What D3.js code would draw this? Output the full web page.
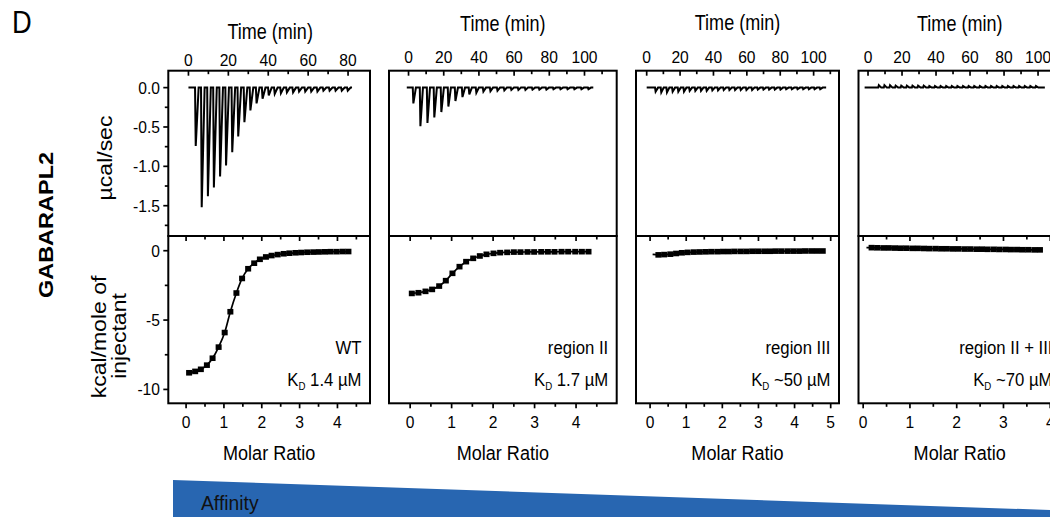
<!DOCTYPE html>
<html><head><meta charset="utf-8">
<script src="https://cdn.jsdelivr.net/npm/d3@7"></script>
<style>
body{margin:0;background:#fff}
svg{display:block}
text{font-family:"Liberation Sans",Arial,Helvetica,sans-serif;fill:#000}
</style>
</head><body>
<svg id="chart" width="1050" height="517"></svg>
<script>
// ---------------- DATA ----------------
const constructs = ["WT", "region II", "region III", "region II + III"];
const kdValues = ["1.4 µM", "1.7 µM", "~50 µM", "~70 µM"];
const timeTickLabels = [[0,20,40,60,80],[0,20,40,60,80,100],[0,20,40,60,80,100],[0,20,40,60,80,100]];
const molarTickLabels = [[0,1,2,3,4],[0,1,2,3,4],[0,1,2,3,4,5],[0,1,2,3,4]];
const powerTickLabels = [0.0,-0.5,-1.0,-1.5];
const heatTickLabels = [0,-5,-10];

// raw thermograms (µcal/sec): injection times (min) and peak heights
const baselineWT = [0, 82];
const injTimeWT = [3.3,6.3,9.4,12.4,15.5,18.5,21.6,24.6,27.7,30.7,33.8,36.8,39.9,42.9,46.0,49.0,52.1,55.1,58.2,61.2,64.3,67.3,70.4,73.4,76.5,79.5];
const peakWT = [-0.74,-1.52,-1.38,-1.27,-1.13,-0.99,-0.82,-0.62,-0.44,-0.29,-0.20,-0.14,-0.10,-0.08,-0.07,-0.06,-0.06,-0.05,-0.05,-0.05,-0.05,-0.04,-0.04,-0.04,-0.04,-0.04];

const baselineII = [-1, 105];
const injTimeII = [2.4,6.4,10.4,14.3,18.3,22.3,26.3,30.3,34.2,38.2,42.2,46.2,50.2,54.1,58.1,62.1,66.1,70.1,74.0,78.0,82.0,86.0,90.0,93.9,97.9,101.9];
const peakII = [-0.20,-0.49,-0.45,-0.38,-0.31,-0.24,-0.17,-0.12,-0.085,-0.065,-0.05,-0.045,-0.04,-0.035,-0.03,-0.03,-0.03,-0.025,-0.025,-0.025,-0.02,-0.02,-0.02,-0.02,-0.02,-0.02];

const baselineIII = [0, 107.5];
const injTimeIII = [5.0,8.4,11.8,15.2,18.6,22.0,25.4,28.8,32.2,35.6,39.0,42.4,45.8,49.2,52.6,56.0,59.4,62.8,66.2,69.6,73.0,76.4,79.8,83.2,86.6,90.0,93.4,96.8,100.2,103.6];
const peakIII = [-0.05,-0.06,-0.06,-0.05,-0.05,-0.05,-0.04,-0.04,-0.04,-0.04,-0.035,-0.035,-0.03,-0.03,-0.03,-0.03,-0.03,-0.03,-0.025,-0.025,-0.025,-0.025,-0.025,-0.02,-0.02,-0.02,-0.02,-0.02,-0.02,-0.02];

const baselineIIIII = [-2, 104];
const injTimeIIIII = [6.0,9.3,12.6,15.9,19.2,22.5,25.8,29.1,32.4,35.7,39.0,42.3,45.6,48.9,52.2,55.5,58.8,62.1,65.4,68.7,72.0,75.3,78.6,81.9,85.2,88.5,91.8,95.1,98.4];
const peakIIIII = [0.03,0.03,0.03,0.025,0.025,0.025,0.025,0.025,0.025,0.02,0.02,0.02,0.02,0.02,0.02,0.02,0.02,0.02,0.02,0.02,0.02,0.02,0.02,0.02,0.02,0.02,0.02,0.02,0.02];

// integrated heats (kcal/mole of injectant) vs molar ratio
const ratioWT = [0.08,0.24,0.39,0.55,0.70,0.86,1.02,1.17,1.33,1.48,1.64,1.80,1.95,2.11,2.26,2.42,2.58,2.73,2.89,3.04,3.20,3.36,3.51,3.67,3.82,3.98,4.14,4.29];
const heatWT = [-8.8,-8.7,-8.55,-8.25,-7.75,-6.95,-5.9,-4.4,-3.05,-2.0,-1.3,-0.9,-0.62,-0.45,-0.35,-0.28,-0.22,-0.18,-0.15,-0.13,-0.11,-0.10,-0.09,-0.08,-0.07,-0.07,-0.06,-0.06];

const ratioII = [0.04,0.20,0.37,0.53,0.70,0.86,1.02,1.19,1.35,1.52,1.68,1.84,2.01,2.17,2.34,2.50,2.66,2.83,2.99,3.16,3.32,3.48,3.65,3.81,3.98,4.14,4.30];
const heatII = [-3.08,-3.03,-2.93,-2.79,-2.55,-2.16,-1.63,-1.15,-0.79,-0.55,-0.38,-0.26,-0.19,-0.14,-0.12,-0.10,-0.10,-0.09,-0.09,-0.08,-0.08,-0.08,-0.07,-0.07,-0.07,-0.07,-0.07];

const ratioIII = [0.23,0.39,0.56,0.72,0.88,1.04,1.21,1.37,1.53,1.69,1.86,2.02,2.18,2.34,2.51,2.67,2.83,2.99,3.16,3.32,3.48,3.64,3.81,3.97,4.13,4.29,4.46,4.62,4.78];
const heatIII = [-0.30,-0.28,-0.25,-0.20,-0.15,-0.12,-0.10,-0.09,-0.08,-0.07,-0.07,-0.06,-0.06,-0.05,-0.05,-0.05,-0.04,-0.04,-0.04,-0.04,-0.03,-0.03,-0.03,-0.03,-0.03,-0.02,-0.02,-0.02,-0.02];

const ratioIIIII = [0.18,0.30,0.43,0.55,0.68,0.80,0.92,1.05,1.17,1.30,1.42,1.55,1.67,1.79,1.92,2.04,2.17,2.29,2.42,2.54,2.66,2.79,2.91,3.04,3.16,3.29,3.41,3.53,3.66,3.78];
const heatIIIII = [0.22,0.21,0.20,0.20,0.19,0.18,0.18,0.17,0.17,0.16,0.15,0.15,0.14,0.14,0.13,0.13,0.12,0.12,0.11,0.11,0.10,0.10,0.09,0.09,0.08,0.08,0.07,0.07,0.06,0.06];

// start of fitted curve (first, excluded injection) for each construct
const fitLead = [null, null, [0.07,-0.27], [0.07,0.22]];

// ---------------- LAYOUT ----------------
const panels = [
  {left:168.3, right:370,   tDom:[-10.1,91],    mDom:[-0.47,4.86], titleY:39, tickY:66,
   baseline:baselineWT, times:injTimeWT, peaks:peakWT, ratio:ratioWT, heat:heatWT},
  {left:389,   right:616.7, tDom:[-11.1,118.3], mDom:[-0.51,4.98], titleY:31, tickY:63,
   baseline:baselineII, times:injTimeII, peaks:peakII, ratio:ratioII, heat:heatII},
  {left:636,   right:839,   tDom:[-6.4,115.2],  mDom:[-0.39,5.23], titleY:30, tickY:63,
   baseline:baselineIII, times:injTimeIII, peaks:peakIII, ratio:ratioIII, heat:heatIII},
  {left:858.5, right:1061,  tDom:[-5.6,113.5],  mDom:[-0.10,4.23], titleY:31, tickY:63,
   baseline:baselineIIIII, times:injTimeIIIII, peaks:peakIIIII, ratio:ratioIIIII, heat:heatIIIII}
];
const TOP = 70.7, MID = 236, BOT = 403.3;
const SX = 0.86;

const svg = d3.select("#chart");
const yPow = d3.scaleLinear().domain([-1.885, 0.215]).range([MID, TOP]);
const yHeat = d3.scaleLinear().domain([-11.0, 1.06]).range([BOT, MID]);

function htext(x, y, str, size, anchor, opts={}) {
  const t = svg.append("text")
    .attr("transform", `translate(${x},${y}) scale(${opts.sx||SX},1)`)
    .attr("text-anchor", anchor || "start")
    .style("font-size", size + "px");
  if (opts.bold) t.style("font-weight", "bold");
  t.text(str);
  return t;
}

function ticksH(scale, values, y, len) {
  svg.append("g").selectAll("line").data(values).join("line")
    .attr("x1", d => scale(d)).attr("x2", d => scale(d))
    .attr("y1", y).attr("y2", y + len)
    .attr("stroke", "#000").attr("stroke-width", 1.7);
}
function ticksV(scale, values, x, len) {
  svg.append("g").selectAll("line").data(values).join("line")
    .attr("y1", d => scale(d)).attr("y2", d => scale(d))
    .attr("x1", x).attr("x2", x + len)
    .attr("stroke", "#000").attr("stroke-width", 1.7);
}

panels.forEach((p, i) => {
  const xT = d3.scaleLinear().domain(p.tDom).range([p.left, p.right]);
  const xM = d3.scaleLinear().domain(p.mDom).range([p.left, p.right]);

  // time ticks (top, inward) every 10 min
  const tTicks = d3.range(0, p.tDom[1] - 2, 10);
  ticksH(xT, tTicks.filter(d => d % 20 === 0), TOP, 5);
  ticksH(xT, tTicks.filter(d => d % 20 !== 0), TOP, 3.5);
  timeTickLabels[i].forEach(v => htext(xT(v), p.tickY, String(v), 17, "middle", {sx:0.92}));
  htext((p.left + Math.min(p.right, 1061)) / 2 + (i === 0 ? 1 : 0), p.titleY, "Time (min)", 22, "middle", {sx:0.82});

  // molar ratio ticks (top of lower panel inward, bottom outward) every 0.5
  const mTicks = d3.range(0, p.mDom[1] - 0.05, 0.5);
  const mMaj = mTicks.filter(d => Number.isInteger(d));
  const mMin = mTicks.filter(d => !Number.isInteger(d));
  ticksH(xM, mMaj, MID, 5); ticksH(xM, mMin, MID, 3.5);
  ticksH(xM, mMaj, BOT, 5); ticksH(xM, mMin, BOT, 3.5);
  molarTickLabels[i].forEach(v => htext(xM(v), 428, String(v), 17, "middle", {sx:0.92}));
  htext((p.left + Math.min(p.right, 1061)) / 2, 460, "Molar Ratio", 21, "middle", {sx:0.86});

  // raw trace
  const pts = [[p.baseline[0], 0]];
  p.times.forEach((t, k) => { pts.push([t, 0], [t + 0.35, p.peaks[k]], [t + 1.8, 0]); });
  pts.push([p.baseline[1], 0]);
  svg.append("path").datum(pts)
    .attr("d", d3.line().x(d => xT(d[0])).y(d => yPow(d[1])))
    .attr("fill", "none").attr("stroke", "#000").attr("stroke-width", 2.0)
    .attr("stroke-linejoin", "miter");

  // fit curve + points
  const pairs = p.ratio.map((r, k) => [r, p.heat[k]]);
  const fit = fitLead[i] ? [fitLead[i]].concat(pairs) : pairs;
  svg.append("path").datum(fit)
    .attr("d", d3.line().curve(d3.curveMonotoneX).x(d => xM(d[0])).y(d => yHeat(d[1])))
    .attr("fill", "none").attr("stroke", "#000").attr("stroke-width", 1.7);
  svg.append("g").selectAll("rect").data(pairs).join("rect")
    .attr("x", d => xM(d[0]) - 3).attr("y", d => yHeat(d[1]) - 2.8)
    .attr("width", 6).attr("height", 5.6).attr("fill", "#000");

  // frames
  svg.append("rect").attr("x", p.left).attr("y", TOP).attr("width", p.right - p.left).attr("height", MID - TOP)
    .attr("fill", "none").attr("stroke", "#000").attr("stroke-width", 2);
  svg.append("rect").attr("x", p.left).attr("y", MID).attr("width", p.right - p.left).attr("height", BOT - MID)
    .attr("fill", "none").attr("stroke", "#000").attr("stroke-width", 2);

  // annotations
  const ax = Math.min(p.right, 1061) - 8.5;
  htext(ax, 354, constructs[i], 19, "end", {sx:0.88});
  const kd = svg.append("text")
    .attr("transform", `translate(${ax},386) scale(0.88,1)`)
    .attr("text-anchor", "end").style("font-size", "19px");
  kd.append("tspan").text("K");
  kd.append("tspan").attr("dy", 4).style("font-size", "11px").text("D");
  kd.append("tspan").attr("dy", -4).text(" " + kdValues[i]);

  if (i === 0) {
    // left y axes
    const pAll = d3.range(0.0, -1.876, -0.25).map(v => +v.toFixed(2));
    ticksV(yPow, pAll.filter(d => powerTickLabels.includes(d)), p.left, -5);
    ticksV(yPow, pAll.filter(d => !powerTickLabels.includes(d)), p.left, -3.5);
    powerTickLabels.forEach(v => htext(160, yPow(v) + 6, v.toFixed(1), 17, "end", {sx:0.92}));
    const hAll = [0, -2.5, -5, -7.5, -10];
    ticksV(yHeat, hAll.filter(d => heatTickLabels.includes(d)), p.left, -5);
    ticksV(yHeat, hAll.filter(d => !heatTickLabels.includes(d)), p.left, -3.5);
    heatTickLabels.forEach(v => htext(160, yHeat(v) + 6, String(v), 17, "end", {sx:0.92}));
  }
});

// rotated labels
function vtext(x, y, str, size, bold) {
  const t = svg.append("text")
    .attr("transform", `translate(${x},${y}) scale(0.85,1) rotate(-90)`)
    .attr("text-anchor", "middle").style("font-size", size + "px").text(str);
  if (bold) t.style("font-weight", "bold");
}
vtext(112, 158, "µcal/sec", 23);
vtext(106, 337, "kcal/mole of", 23);
vtext(126, 336, "injectant", 23);
vtext(53, 225, "GABARAPL2", 23.5, true);

// panel letter
htext(12, 33, "D", 31, "start", {sx:0.88});

// affinity wedge
const wedge = [[173, 480], [1050, 510], [1050, 517], [173, 517]];
svg.append("path").attr("d", d3.line()(wedge) + "Z").attr("fill", "#2866b1");
htext(201, 510, "Affinity", 21, "start", {sx:0.92}).style("fill", "#111");
</script>
</body></html>
